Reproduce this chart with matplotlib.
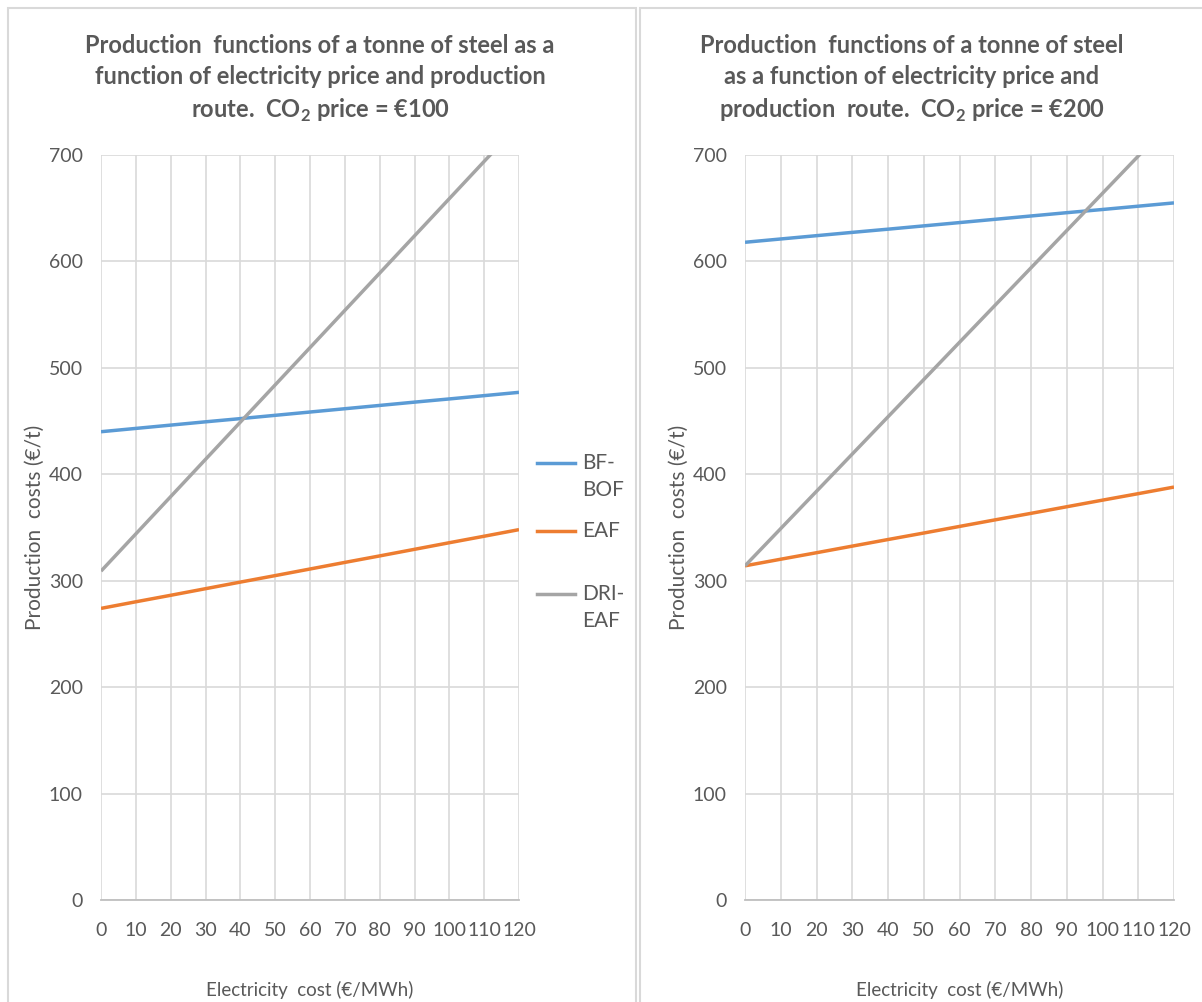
import matplotlib
matplotlib.use('Agg')
import matplotlib.pyplot as plt
from matplotlib.patches import Rectangle
from matplotlib.lines import Line2D

plt.rcParams['font.family'] = ['Lato', 'DejaVu Sans']

# electricity cost (€/MWh)
elec_cost = [0, 10, 20, 30, 40, 50, 60, 70, 80, 90, 100, 110, 120]

# production costs (€/t), CO2 price = €100
bf_bof_100 = [440, 443.1, 446.2, 449.3, 452.3, 455.4, 458.5, 461.6, 464.7, 467.8, 470.8, 473.9, 477]
eaf_100 = [274, 280.2, 286.3, 292.5, 298.7, 304.8, 311, 317.2, 323.3, 329.5, 335.7, 341.8, 348]
dri_eaf_100 = [309, 344, 379, 414, 449, 484, 519, 554, 589, 624, 659, 694, 729]

# production costs (€/t), CO2 price = €200
bf_bof_200 = [618, 621.1, 624.2, 627.3, 630.3, 633.4, 636.5, 639.6, 642.7, 645.8, 648.8, 651.9, 655]
eaf_200 = [314, 320.2, 326.3, 332.5, 338.7, 344.8, 351, 357.2, 363.3, 369.5, 375.7, 381.8, 388]
dri_eaf_200 = [314, 349, 384, 419, 454, 489, 524, 559, 594, 629, 664, 699, 734]

titles = [
    'Production  functions of a tonne of steel as a\nfunction of electricity price and production\nroute.  CO$_{\\mathregular{2}}$ price = €100',
    'Production  functions of a tonne of steel\nas a function of electricity price and\nproduction  route.  CO$_{\\mathregular{2}}$ price = €200',
]

blue = '#5B9BD5'
orange = '#ED7D31'
grey = '#A5A5A5'
txt = '#595959'

W, H = 1202, 1002
fig = plt.figure(figsize=(W / 100, H / 100), dpi=100)

# chart frames
fig.add_artist(Rectangle((8 / W, -0.01), 628 / W, 1 - 8 / H + 0.01,
                         transform=fig.transFigure, fill=False,
                         edgecolor='#d9d9d9', lw=1.5))
fig.add_artist(Rectangle((640 / W, -0.01), 570 / W, 1 - 8 / H + 0.01,
                         transform=fig.transFigure, fill=False,
                         edgecolor='#d9d9d9', lw=1.5))

ax1 = fig.add_axes([101 / W, 1 - 900 / H, 418 / W, 745 / H])
ax2 = fig.add_axes([745 / W, 1 - 900 / H, 429 / W, 745 / H])

data = [(bf_bof_100, eaf_100, dri_eaf_100), (bf_bof_200, eaf_200, dri_eaf_200)]
centers = [320 / W, 912 / W]

for ax, (bf, eaf, dri), title, cx in zip([ax1, ax2], data, titles, centers):
    ax.plot(elec_cost, bf, color=blue, lw=2.5, label='BF-\nBOF', solid_capstyle='butt')
    ax.plot(elec_cost, eaf, color=orange, lw=2.5, label='EAF', solid_capstyle='butt')
    ax.plot(elec_cost, dri, color=grey, lw=2.5, label='DRI-\nEAF', solid_capstyle='butt')
    ax.set_xlim(0, 120)
    ax.set_ylim(0, 700)
    ax.set_xticks(elec_cost)
    ax.set_yticks(range(0, 701, 100))
    ax.grid(True, color='#d9d9d9', lw=1.2)
    ax.set_axisbelow(True)
    for s in ['left', 'right', 'top']:
        ax.spines[s].set_visible(False)
    ax.spines['bottom'].set_color('#bfbfbf')
    ax.spines['bottom'].set_linewidth(1.3)
    ax.tick_params(length=0, colors=txt, labelsize=14)
    ax.tick_params(axis='y', pad=13)
    ax.tick_params(axis='x', pad=16)
    ax.set_xlabel('Electricity  cost (€/MWh)', color=txt, fontsize=13.5, labelpad=30)
    ax.set_ylabel('Production  costs (€/t)', color=txt, fontsize=15, labelpad=3)
    fig.text(cx, 1 - 34 / H, title, ha='center', va='top', fontsize=17,
             fontweight='bold', color=txt, linespacing=1.42)

# legend to the right of the first chart, key aligned with the first text line
leg_y = [463, 531, 594]
for line, y in zip(ax1.get_lines(), leg_y):
    fig.add_artist(Line2D([537 / W, 575 / W], [1 - y / H] * 2,
                          color=line.get_color(), lw=2.5,
                          transform=fig.transFigure))
    for k, part in enumerate(line.get_label().split('\n')):
        fig.text(582 / W, 1 - (y + 27 * k) / H, part, va='center',
                 ha='left', fontsize=15, color=txt)

fig.savefig('out.png', dpi=100)
